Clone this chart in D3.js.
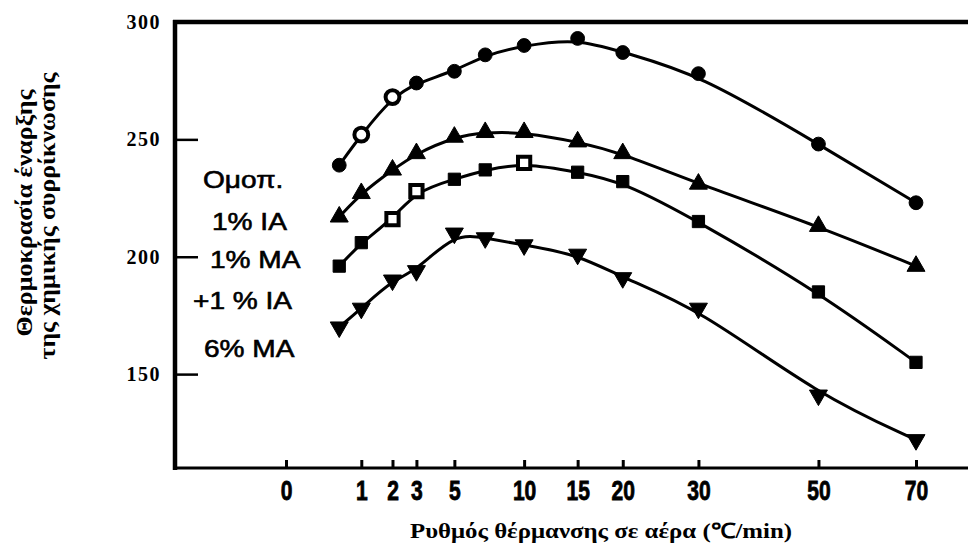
<!DOCTYPE html>
<html>
<head>
<meta charset="utf-8">
<script src="https://cdn.jsdelivr.net/npm/d3@7"></script>
<style>
  body { margin: 0; background: #fff; }
  svg { display: block; }
</style>
</head>
<body>
<svg id="svg" width="968" height="545"></svg>
<script>
/* globals d3 */

// heating rates (°C/min) of the measured points
const rates = [0.5, 1, 2, 3, 5, 7, 10, 15, 20, 30, 50, 70];

// onset temperature of chemical shrinkage, one list per sample
const homoValues = [239, 252, 268, 274, 279, 286, 290, 293, 287, 278, 248, 223];
const ia1Values  = [217, 227, 237, 244, 251, 253, 253, 249, 244, 231, 213, 196];
const ma1Values  = [196, 206, 216, 228, 233, 237, 240, 236, 232, 215, 185, 155];
const ma6Values  = [170, 178, 190, 194, 210, 208, 205, 201, 191, 178, 141, 122];

const xTickValues = [0, 1, 2, 3, 5, 10, 15, 20, 30, 50, 70];
const yTickValues = [150, 200, 250, 300];

const curveLabels = ['Ομοπ.', '1% ΙΑ', '1% ΜΑ', '+1 % ΙΑ', '6% ΜΑ'];
const xTitle = 'Ρυθμός θέρμανσης σε αέρα (℃/min)';
const yTitle = ['Θερμοκρασία έναρξης', 'της χημικής συρρίκνωσης'];

var CHART = (function() {
  let chart = {};
  let svg = d3.select('svg');

  let margin = {top: 22, left: 175, bottom: 77};
  let width = 968 - margin.left;
  let height = 545 - margin.top - margin.bottom;

  // the rate axis of the figure is a square-root scale
  let x = d3.scaleSqrt().domain([0, 70]).range([111, 741]);
  let y = d3.scaleLinear().domain([110, 300]).range([height, 0]);

  let g = svg.append('g').attr('transform', 'translate(' + margin.left + ',' + margin.top + ')');

  let series = [
    {values: homoValues, symbol: d3.symbolCircle, size: 150, rotate: 0, open: [1, 2]},
    {values: ia1Values, symbol: d3.symbolTriangle, size: 140, rotate: 0, open: []},
    {values: ma1Values, symbol: d3.symbolSquare, size: 150, rotate: 0, open: [2, 3, 6]},
    {values: ma6Values, symbol: d3.symbolTriangle, size: 140, rotate: 180, open: []}
  ];

  let line = d3.line()
    .x(function(d) { return x(d.rate); })
    .y(function(d) { return y(d.value); })
    .curve(d3.curveBasis);

  chart.axes = function() {
    let xAxis = d3.axisBottom(x).tickValues(xTickValues).tickSize(-8).tickPadding(13);
    let ax = g.append('g').attr('transform', 'translate(0,' + height + ')').call(xAxis);
    ax.select('.domain').remove();
    ax.selectAll('.tick line').attr('stroke', '#000').attr('stroke-width', 3);
    ax.selectAll('.tick text')
      .attr('fill', '#000')
      .attr('stroke', '#000').attr('stroke-width', 0.8)
      .attr('transform', 'scale(0.78,1)')
      .style('font', 'bold 27px "Liberation Sans", Arial, sans-serif');

    let yAxis = d3.axisLeft(y).tickValues(yTickValues).tickSize(-23).tickPadding(14);
    let ay = g.append('g').call(yAxis);
    ay.select('.domain').remove();
    ay.selectAll('.tick line').attr('stroke', '#000').attr('stroke-width', 2.5);
    ay.selectAll('.tick text')
      .attr('fill', '#000')
      .style('font', 'bold 20px "Liberation Serif", "Times New Roman", serif')
      .style('letter-spacing', '1.5px');

    // frame: left, top and bottom lines
    g.append('line').attr('x1', 0).attr('x2', 0).attr('y1', -2).attr('y2', height + 2)
      .attr('stroke', '#000').attr('stroke-width', 4.5);
    g.append('line').attr('x1', -2).attr('x2', width).attr('y1', 0).attr('y2', 0)
      .attr('stroke', '#000').attr('stroke-width', 4.5);
    g.append('line').attr('x1', -2).attr('x2', width).attr('y1', height).attr('y2', height)
      .attr('stroke', '#000').attr('stroke-width', 3);
  };

  chart.curves = function() {
    series.forEach(function(s) {
      let pts = rates.map(function(r, i) { return {rate: r, value: s.values[i], open: s.open.indexOf(i) >= 0}; });

      g.append('path')
        .attr('d', line(pts))
        .attr('fill', 'none')
        .attr('stroke', '#000')
        .attr('stroke-width', 3);

      let sym = d3.symbol().type(s.symbol).size(s.size);
      g.selectAll(null).data(pts).enter().append('path')
        .attr('d', sym)
        .attr('transform', function(d) {
          return 'translate(' + x(d.rate) + ',' + y(d.value) + ') rotate(' + s.rotate + ')';
        })
        .attr('fill', function(d) { return d.open ? '#fff' : '#000'; })
        .attr('stroke', '#000')
        .attr('stroke-width', function(d) { return d.open ? 4 : 1; });
    });
  };

  chart.labels = function() {
    let spots = [[203, 188], [212, 230], [210, 268], [193, 309], [204, 357]];
    svg.selectAll(null).data(curveLabels).enter().append('text')
      .attr('transform', function(d, i) { return 'translate(' + spots[i][0] + ',' + spots[i][1] + ') scale(1.17,1)'; })
      .style('font', '24px "Liberation Sans", Arial, sans-serif')
      .attr('fill', '#000')
      .attr('stroke', '#000').attr('stroke-width', 0.6)
      .text(function(d) { return d; });

    svg.append('text')
      .attr('x', 410).attr('y', 538)
      .attr('textLength', 382).attr('lengthAdjust', 'spacingAndGlyphs')
      .style('font', 'bold 21px "Liberation Serif", "Times New Roman", serif')
      .text(xTitle);

    let lines = [{x: 32, cy: 213, len: 247}, {x: 55, cy: 216, len: 287}];
    yTitle.forEach(function(t, i) {
      let l = lines[i];
      svg.append('text')
        .attr('transform', 'translate(' + l.x + ',' + (l.cy + l.len / 2) + ') rotate(-90)')
        .attr('textLength', l.len).attr('lengthAdjust', 'spacingAndGlyphs')
        .style('font', 'bold 23px "Liberation Serif", "Times New Roman", serif')
        .text(t);
    });
  };

  chart.init = function() {
    chart.axes();
    chart.curves();
    chart.labels();
  };

  return chart;
})();

CHART.init();
</script>
</body>
</html>
